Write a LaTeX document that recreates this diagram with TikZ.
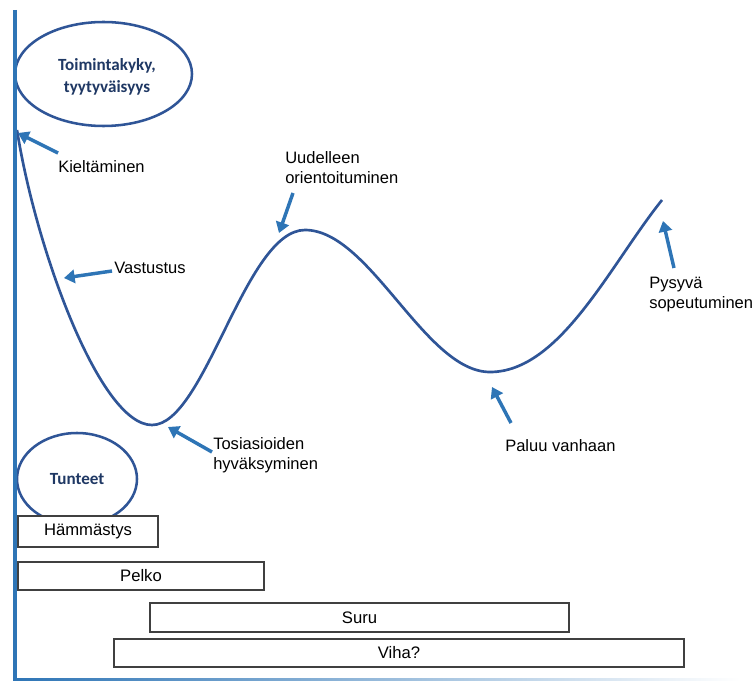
\documentclass[tikz,border=0pt]{standalone}
\usepackage{fontspec}
\setmainfont{Liberation Sans}
\newfontfamily\ellipsefont{Carlito}
\usepackage{tikz}
\usetikzlibrary{arrows.meta,shapes.geometric}

\definecolor{akseli}{RGB}{46,117,182}
\definecolor{kayra}{RGB}{47,85,151}
\definecolor{tummateksti}{RGB}{31,56,100}
\definecolor{reuna}{RGB}{64,64,64}

\tikzset{
  nuoli/.style={draw=akseli,line width=2.6pt,-{Triangle[length=8pt,width=10pt]}},
  soikio/.style={ellipse,draw=kayra,line width=1.9pt,fill=white,
    font=\ellipsefont\bfseries\fontsize{12.8}{16}\selectfont,text=tummateksti,align=center,inner sep=0pt},
  laatikko/.style={rectangle,draw=reuna,line width=0.9pt,fill=white,inner sep=0pt,
    font=\fontsize{12.5}{15}\selectfont},
  selite/.style={font=\fontsize{12.4}{15}\selectfont,align=left,anchor=west,inner sep=0pt}
}

\begin{document}
\begin{tikzpicture}[x=0.75pt,y=-0.75pt]
                \useasboundingbox (0,0) rectangle (756,681);

                % kayra
                \draw[kayra,line width=2pt] (17,130) .. controls (36,250) and (100,425) .. (152,425)
                        .. controls (205,425) and (245,230) .. (305,230)
                        .. controls (370,230) and (425,372) .. (490,372)
                        .. controls (560,372) and (610,265) .. (662,200);

                \node[soikio,minimum width=132.75pt,minimum height=78pt] (toimintakyky) at (103.5,74) {};
                \node[font=\ellipsefont\bfseries\fontsize{12.8}{16}\selectfont,text=tummateksti,align=center] (toimintakyky-teksti) at (107,77) {Toimintakyky,\\tyytyväisyys};
                \node[soikio,minimum width=90pt,minimum height=69pt] (tunteet) at (77,479) {Tunteet};

                % tunteet
                \node[laatikko,minimum width=105pt,minimum height=23.25pt] (hammastys) at (88,531.5) {Hämmästys};
                \node[laatikko,minimum width=184.5pt,minimum height=21pt] (pelko) at (141,576) {Pelko};
                \node[laatikko,minimum width=314.25pt,minimum height=21.75pt] (suru) at (359.5,617.5) {Suru};
                \node[laatikko,minimum width=427.5pt,minimum height=21pt] (viha) at (399,653) {Viha?};

                % akselit
                \draw[akseli,line width=3pt] (15,10) -- (15,681);
                \shade[left color=akseli,right color=white] (13.5,678) rectangle (740,681);

                % vaiheet
                \node[selite] (kieltaminen) at (58,167) {Kieltäminen};
                \node[selite] (vastustus) at (114,268) {Vastustus};
                \node[selite] (tosiasioiden) at (213,455) {Tosiasioiden\\hyväksyminen};
                \node[selite] (uudelleen) at (285,168) {Uudelleen\\orientoituminen};
                \node[selite] (paluu) at (505,446) {Paluu vanhaan};
                \node[selite] (pysyva) at (649,295) {Pysyvä\\sopeutuminen};

                \coordinate (kieltaminen-alku) at (58,153);
                \coordinate (kieltaminen-karki) at (18,133);
                \coordinate (vastustus-alku) at (112,271);
                \coordinate (vastustus-karki) at (64,278);
                \coordinate (tosiasioiden-alku) at (212,452);
                \coordinate (tosiasioiden-karki) at (168,427);
                \coordinate (uudelleen-alku) at (293,193);
                \coordinate (uudelleen-karki) at (279,233);
                \coordinate (paluu-alku) at (511,423);
                \coordinate (paluu-karki) at (492,387);
                \coordinate (pysyva-alku) at (674,268);
                \coordinate (pysyva-karki) at (663,221);

                \draw[nuoli] (kieltaminen-alku) -- (kieltaminen-karki);
                \draw[nuoli] (vastustus-alku) -- (vastustus-karki);
                \draw[nuoli] (tosiasioiden-alku) -- (tosiasioiden-karki);
                \draw[nuoli] (uudelleen-alku) -- (uudelleen-karki);
                \draw[nuoli] (paluu-alku) -- (paluu-karki);
                \draw[nuoli] (pysyva-alku) -- (pysyva-karki);
            \end{tikzpicture}
\end{document}
